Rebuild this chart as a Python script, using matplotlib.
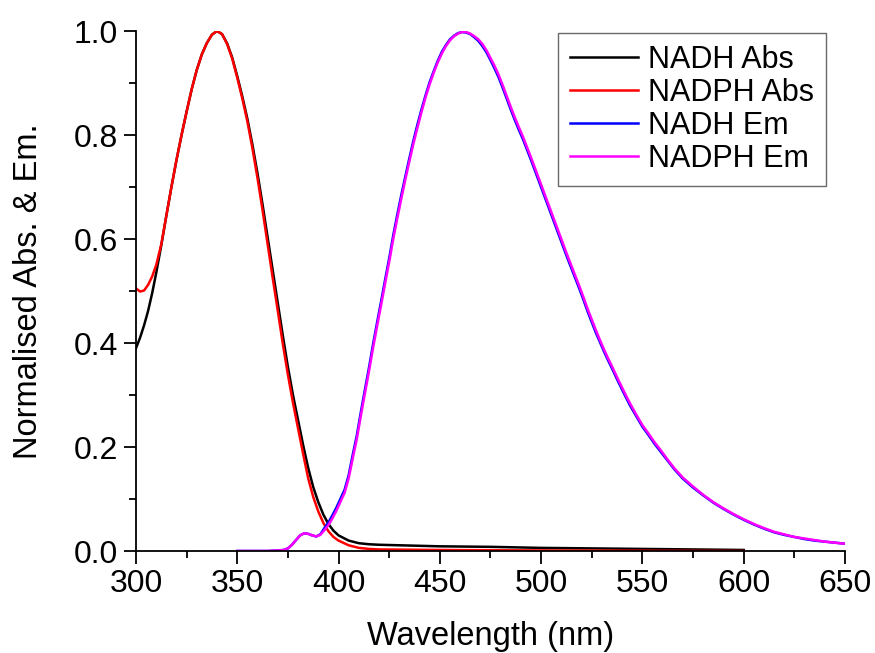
import matplotlib
matplotlib.use("Agg")
import matplotlib.pyplot as plt
from matplotlib.ticker import MultipleLocator

plt.rcParams['font.family'] = ['Liberation Sans', 'DejaVu Sans']

# absorption spectra (normalised)
abs_wl = [300, 302, 304, 306, 308, 310,
          312.5, 315, 317.5, 320, 322.5, 325, 327.5, 330, 332.5, 335, 337.5,
          340, 342.5, 345, 347.5, 350, 352.5, 355, 357.5, 360, 362.5, 365,
          367.5, 370, 372.5, 375, 377.5, 380, 382.5, 385, 387.5, 390, 392.5,
          395, 397.5, 400,
          405, 410, 415, 420, 450, 475, 500, 550, 600]
nadh_abs = [0.390, 0.410, 0.434, 0.462, 0.496, 0.535,
            0.588, 0.645, 0.700, 0.752, 0.800, 0.845, 0.888, 0.925, 0.955,
            0.977, 0.993, 1.0, 0.994, 0.976, 0.949, 0.913, 0.874, 0.831, 0.781,
            0.726, 0.666, 0.603, 0.540, 0.477, 0.414, 0.354, 0.300, 0.252,
            0.204, 0.160, 0.123, 0.094, 0.070, 0.052, 0.039, 0.030,
            0.020, 0.015, 0.013, 0.012, 0.009, 0.008, 0.006, 0.004, 0.002]
nadph_abs = [0.505, 0.499, 0.501, 0.512, 0.528, 0.550,
             0.590, 0.645, 0.700, 0.752, 0.800, 0.845, 0.888, 0.925, 0.955,
             0.977, 0.993, 1.0, 0.994, 0.975, 0.947, 0.910, 0.870, 0.826,
             0.774, 0.717, 0.655, 0.590, 0.525, 0.462, 0.398, 0.339, 0.285,
             0.236, 0.187, 0.140, 0.104, 0.076, 0.054, 0.038, 0.027, 0.020,
             0.011, 0.006, 0.004, 0.003, 0.002, 0.0015, 0.001, 0.0005, 0.0]

# emission spectra (normalised)
em_wl = [350, 355, 360, 365, 370, 373, 375,
         377, 379, 381, 383, 385, 387, 389, 391, 393, 395, 397, 399, 401, 403,
         405, 407, 409, 411, 413, 415, 417, 419, 421, 423, 425, 427, 429, 431,
         433, 435, 437, 439, 441, 443, 445, 447, 449, 451, 453, 455, 457, 459,
         461, 463, 465, 467, 469, 471, 473, 475, 477, 479, 481, 483, 485, 487,
         489, 491, 493, 495, 497, 499, 501, 503, 505, 507, 509, 511, 513, 515,
         517, 519, 521, 523, 525, 527, 529, 531, 533, 535,
         538, 541, 544, 547, 550, 553, 556, 559, 562, 566, 570,
         575, 580, 585, 590, 595, 600, 605, 610, 615, 620, 625, 630, 635, 640,
         645, 650]
nadph_em = [0.0, 0.0, 0.0, 0.0, 0.001, 0.002, 0.005,
            0.012, 0.021, 0.030, 0.034, 0.033, 0.030, 0.028, 0.031, 0.040,
            0.050, 0.063, 0.078, 0.095, 0.112, 0.140, 0.178, 0.215, 0.260,
            0.303, 0.345, 0.390, 0.432, 0.473, 0.515, 0.556, 0.600, 0.640,
            0.678, 0.715, 0.750, 0.784, 0.815, 0.845, 0.873, 0.898, 0.920,
            0.940, 0.957, 0.971, 0.982, 0.990, 0.995, 0.998, 0.998, 0.995,
            0.990, 0.984, 0.975, 0.963, 0.948, 0.933, 0.916, 0.896, 0.875,
            0.854, 0.834, 0.815, 0.797, 0.777, 0.757, 0.736, 0.715, 0.694,
            0.673, 0.652, 0.631, 0.610, 0.589, 0.568, 0.548, 0.528, 0.508,
            0.487, 0.465, 0.445, 0.425, 0.406, 0.388, 0.371, 0.355,
            0.330, 0.306, 0.283, 0.262, 0.242, 0.226, 0.209, 0.194, 0.178,
            0.158, 0.141,
            0.124, 0.108, 0.094, 0.082, 0.071, 0.061, 0.052, 0.044, 0.037,
            0.032, 0.027, 0.024, 0.021, 0.018, 0.016, 0.014]
nadh_em = [0.0, 0.0, 0.0, 0.0, 0.001, 0.002, 0.005,
           0.012, 0.021, 0.030, 0.034, 0.033, 0.030, 0.028, 0.032, 0.044,
           0.055, 0.069, 0.084, 0.101, 0.118, 0.146, 0.185, 0.222, 0.267,
           0.310, 0.352, 0.397, 0.439, 0.480, 0.522, 0.563, 0.607, 0.647,
           0.685, 0.721, 0.756, 0.790, 0.821, 0.850, 0.877, 0.902, 0.923,
           0.943, 0.960, 0.973, 0.984, 0.991, 0.996, 0.998, 0.997, 0.994,
           0.988, 0.981, 0.971, 0.959, 0.944, 0.928, 0.911, 0.891, 0.870,
           0.849, 0.829, 0.810, 0.792, 0.772, 0.752, 0.731, 0.710, 0.689,
           0.668, 0.647, 0.626, 0.605, 0.584, 0.563, 0.543, 0.523, 0.503,
           0.482, 0.460, 0.440, 0.420, 0.402, 0.384, 0.367, 0.351,
           0.326, 0.302, 0.279, 0.259, 0.239, 0.223, 0.206, 0.191, 0.176,
           0.156, 0.139,
           0.122, 0.107, 0.093, 0.081, 0.070, 0.060, 0.051, 0.043, 0.036,
           0.031, 0.027, 0.023, 0.020, 0.018, 0.016, 0.014]

fig = plt.figure(figsize=(8.75, 6.53), dpi=100)
ax = fig.add_axes([0.1554, 0.1562, 0.8103, 0.7963])

ax.plot(abs_wl, nadh_abs, color='black', lw=1.8, label='NADH Abs')
ax.plot(abs_wl, nadph_abs, color='red', lw=1.8, label='NADPH Abs')
ax.plot(em_wl, nadh_em, color='blue', lw=1.8, label='NADH Em')
ax.plot(em_wl, nadph_em, color='magenta', lw=1.8, label='NADPH Em')

ax.set_xlim(300, 650)
ax.set_ylim(0, 1.0)
ax.xaxis.set_major_locator(MultipleLocator(50))
ax.xaxis.set_minor_locator(MultipleLocator(25))
ax.yaxis.set_major_locator(MultipleLocator(0.2))
ax.yaxis.set_minor_locator(MultipleLocator(0.1))
ax.yaxis.set_major_formatter(plt.FuncFormatter(lambda v, p: '%.1f' % v))

for s in ['top', 'right']:
    ax.spines[s].set_visible(False)
for s in ['left', 'bottom']:
    ax.spines[s].set_linewidth(1.3)
ax.tick_params(which='major', direction='out', length=9, width=1.3,
               labelsize=23, pad=4)
ax.tick_params(which='minor', direction='out', length=5, width=1.3)

ax.set_xlabel('Wavelength (nm)', fontsize=23.5, labelpad=16)
ax.set_ylabel('Normalised Abs. & Em.', fontsize=23.5, labelpad=21)

leg = ax.legend(loc='upper right', bbox_to_anchor=(0.973, 0.997), fontsize=22,
                frameon=True, fancybox=False, handlelength=2.2,
                handletextpad=0.33, labelspacing=0.1, borderpad=0.4,
                borderaxespad=0)
leg.get_frame().set_edgecolor('#444444')
leg.get_frame().set_linewidth(1.0)

fig.savefig('out.png', dpi=100)
